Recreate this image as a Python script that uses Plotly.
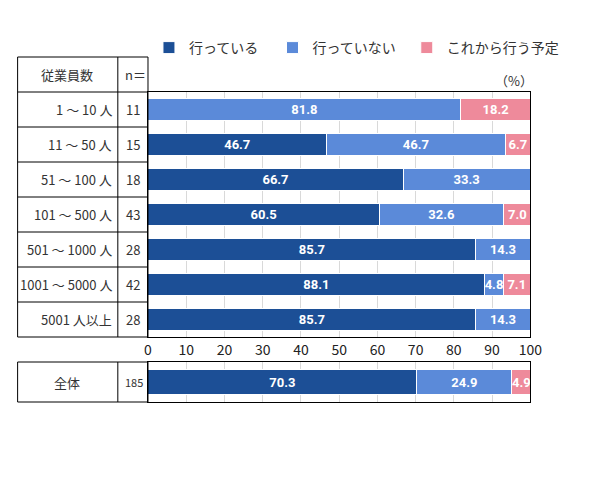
import plotly.graph_objects as go

# Survey breakdown by company size (%), plus the overall row.
SIZE_LABELS = ["1 ～ 10 人", "11 ～ 50 人", "51 ～ 100 人", "101 ～ 500 人",
               "501 ～ 1000 人", "1001 ～ 5000 人", "5001 人以上"]
SIZE_N = [11, 15, 18, 43, 28, 42, 28]
DOING = [None, 46.7, 66.7, 60.5, 85.7, 88.1, 85.7]
NOT_DOING = [81.8, 46.7, 33.3, 32.6, 14.3, 4.8, 14.3]
PLANNED = [18.2, 6.7, None, 7.0, None, 7.1, None]

TOTAL_LABEL = "全体"
TOTAL_N = 185
TOTAL_VALUES = [70.3, 24.9, 4.9]

SERIES_NAMES = ["行っている", "行っていない", "これから行う予定"]
COLOURS = ["#1c4f96", "#5b8ad9", "#ee8a9b"]
X_TICKS = [0, 10, 20, 30, 40, 50, 60, 70, 80, 90, 100]

W, H = 590, 503
JP_FONT = "Noto Sans CJK JP"
TEXT_COLOUR = "#333333"
LABEL_FONT = {"color": "white", "size": 13, "family": "Roboto", "weight": "bold"}

# one legend box per series so each entry sits where the reference has it
LEGEND_IDS = ["legend", "legend2", "legend3"]
LEGEND_X = [149, 276, 414]


def px(x):
    return x / W


def py(y):
    return 1 - y / H


def fmt(v):
    return "" if v is None else f"{v:.1f}"


fig = go.Figure()

top_series = [DOING, NOT_DOING, PLANNED]
for name, colour, values, leg in zip(SERIES_NAMES, COLOURS, top_series,
                                     LEGEND_IDS):
    fig.add_trace(go.Bar(
        y=SIZE_LABELS, x=values, orientation="h", name=name, legend=leg,
        marker={"color": colour, "line": {"color": "white", "width": 1}},
        text=[fmt(v) for v in values], textposition="inside",
        insidetextanchor="middle", textangle=0, textfont=LABEL_FONT,
        xaxis="x", yaxis="y", hoverinfo="skip",
    ))

for name, colour, value in zip(SERIES_NAMES, COLOURS, TOTAL_VALUES):
    fig.add_trace(go.Bar(
        y=[TOTAL_LABEL], x=[value], orientation="h", name=name,
        marker={"color": colour, "line": {"color": "white", "width": 1}},
        text=[fmt(value)], textposition="inside",
        insidetextanchor="middle", textangle=0, textfont=LABEL_FONT,
        xaxis="x2", yaxis="y2", showlegend=False, hoverinfo="skip",
    ))

# Table grid to the left of the bars
LINE = {"color": "black", "width": 1}
shapes = []
row_edges = [57, 92, 127, 162, 197, 232, 267, 302, 337]
for y in row_edges:
    shapes.append(dict(type="line", xref="paper", yref="paper",
                       x0=px(14), x1=px(148), y0=py(y), y1=py(y), line=LINE))
for x in (14, 117, 148):
    shapes.append(dict(type="line", xref="paper", yref="paper",
                       x0=px(x), x1=px(x), y0=py(57), y1=py(337), line=LINE))
for y in (362, 402):
    shapes.append(dict(type="line", xref="paper", yref="paper",
                       x0=px(14), x1=px(148), y0=py(y), y1=py(y), line=LINE))
for x in (14, 117, 148):
    shapes.append(dict(type="line", xref="paper", yref="paper",
                       x0=px(x), x1=px(x), y0=py(362), y1=py(402), line=LINE))


def note(text, x, y, xanchor="center", yref="paper", size=13):
    return dict(text=text, xref="paper", yref=yref, x=x, y=y,
                xanchor=xanchor, yanchor="middle", showarrow=False,
                font={"size": size})


annotations = [
    note("従業員数", px(65), py(74)),
    note("n＝", px(122), py(74), xanchor="left"),
    note("（%）", px(546), py(81), xanchor="right"),
    note(TOTAL_LABEL, px(65), TOTAL_LABEL, yref="y2"),
    note(str(TOTAL_N), px(122), TOTAL_LABEL, xanchor="left", yref="y2",
         size=11),
]
for label, n in zip(SIZE_LABELS, SIZE_N):
    annotations.append(note(label, px(113), label, xanchor="right", yref="y"))
    annotations.append(note(str(n), px(123), label, xanchor="left", yref="y"))

axis_common = dict(range=[0, 100], tickvals=X_TICKS, showgrid=True,
                   gridcolor="#d9d9d9", zeroline=False, showline=True,
                   mirror=True, linecolor="black", linewidth=1,
                   fixedrange=True)

legend_style = dict(orientation="h", xanchor="left", yanchor="middle",
                    y=py(48), font={"size": 14, "color": TEXT_COLOUR},
                    bgcolor="rgba(0,0,0,0)")

fig.update_layout(
    width=W, height=H,
    margin={"l": 0, "r": 0, "t": 0, "b": 0},
    paper_bgcolor="white", plot_bgcolor="white",
    barmode="stack", bargap=0.38,
    font={"family": JP_FONT, "color": TEXT_COLOUR, "size": 13},
    uniformtext={"mode": "show", "minsize": 13},
    xaxis=dict(domain=[px(148), px(541)], anchor="y",
               tickfont={"size": 14, "color": "#222222"}, ticks="",
               **axis_common),
    yaxis=dict(domain=[py(337), py(92)], anchor="x",
               categoryorder="array", categoryarray=SIZE_LABELS,
               autorange="reversed", showticklabels=False,
               showline=True, mirror=True, linecolor="black",
               fixedrange=True),
    xaxis2=dict(domain=[px(148), px(541)], anchor="y2",
                showticklabels=False, **axis_common),
    yaxis2=dict(domain=[py(402), py(362)], anchor="x2",
                showticklabels=False, showline=True, mirror=True,
                linecolor="black", fixedrange=True),
    legend=dict(x=px(LEGEND_X[0]), **legend_style),
    legend2=dict(x=px(LEGEND_X[1]), **legend_style),
    legend3=dict(x=px(LEGEND_X[2]), **legend_style),
    shapes=shapes,
    annotations=annotations,
)

# Drop the default page margin and scrollbars so pixels line up.
fig.write_html(
    "out.html",
    config={"displayModeBar": False},
    post_script=(
        "document.body.style.margin='0';"
        "document.body.style.overflow='hidden';"
        "document.documentElement.style.overflow='hidden';"
    ),
)
